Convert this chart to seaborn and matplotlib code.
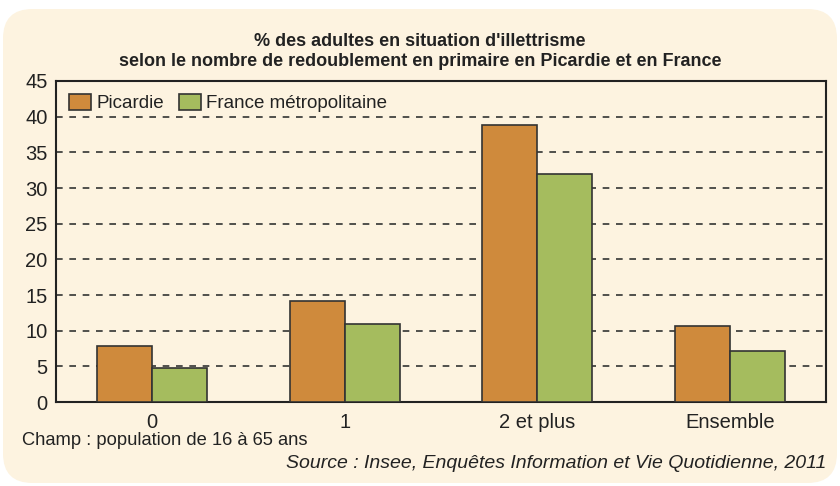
import pandas as pd
import matplotlib.pyplot as plt
import seaborn as sns
from matplotlib.patches import FancyBboxPatch

# Data
categories = ["0", "1", "2 et plus", "Ensemble"]
picardie = [7.8, 14.2, 38.8, 10.7]
france = [4.7, 10.9, 32.0, 7.1]
series_names = ["Picardie", "France métropolitaine"]

df = pd.DataFrame({
    "categorie": categories * 2,
    "valeur": picardie + france,
    "zone": [series_names[0]] * 4 + [series_names[1]] * 4,
})

bg = "#fdf3e0"
sns.set_style("white")
plt.rcParams["font.family"] = ["Liberation Sans", "DejaVu Sans"]

fig = plt.figure(figsize=(8.4, 4.86), dpi=100)
fig.patch.set_facecolor("white")
# rounded cream panel behind everything
panel = FancyBboxPatch((3/840, 3/486), 834/840, 474/486,
                       boxstyle="round,pad=0,rounding_size=0.035",
                       transform=fig.transFigure, facecolor=bg,
                       edgecolor="none", zorder=-10, mutation_aspect=840/486)
fig.patches.append(panel)

ax = fig.add_axes([56/840, 1 - 402/486, 770/840, 321/486])
ax.set_facecolor(bg)

sns.barplot(data=df, x="categorie", y="valeur", hue="zone",
            palette=["#cf8a3c", "#a5bc5e"], saturation=1, width=0.57, gap=0,
            edgecolor="#333333", linewidth=1.2, ax=ax, zorder=3)

ax.set_ylim(0, 45)
ax.set_yticks(range(0, 46, 5))
ax.set_xlim(-0.5, 3.5)
for y in range(5, 45, 5):
    ax.axhline(y, color="#333333", linestyle=(0, (4, 4)), linewidth=1.2, zorder=1)

for s in ax.spines.values():
    s.set_color("#222222")
    s.set_linewidth(1.5)
ax.tick_params(axis="both", length=0, labelsize=14.5, colors="#222222", pad=6)
ax.tick_params(axis="x", pad=8)
ax.set_xlabel("")
ax.set_ylabel("")

leg = ax.legend(loc="upper left", frameon=False, fontsize=13.5,
                handlelength=1.15, handleheight=0.9, handletextpad=0.3,
                columnspacing=0.8, ncol=2, borderaxespad=0.3,
                bbox_to_anchor=(0.0, 1.0))
for t in leg.get_texts():
    t.set_color("#222222")

fig.text(0.5, 1 - 42/486, "% des adultes en situation d'illettrisme",
         ha="center", va="center", fontsize=13, fontweight="bold", color="#222222")
fig.text(0.5, 1 - 61/486,
         "selon le nombre de redoublement en primaire en Picardie et en France",
         ha="center", va="center", fontsize=13, fontweight="bold", color="#222222")
fig.text(22/840, 1 - 440/486, "Champ : population de 16 à 65 ans",
         ha="left", va="center", fontsize=13.2, color="#222222")
fig.text(826/840, 1 - 463/486,
         "Source : Insee, Enquêtes Information et Vie Quotidienne, 2011",
         ha="right", va="center", fontsize=14, style="italic", color="#222222")

fig.savefig("out.png", dpi=100, facecolor="white")
